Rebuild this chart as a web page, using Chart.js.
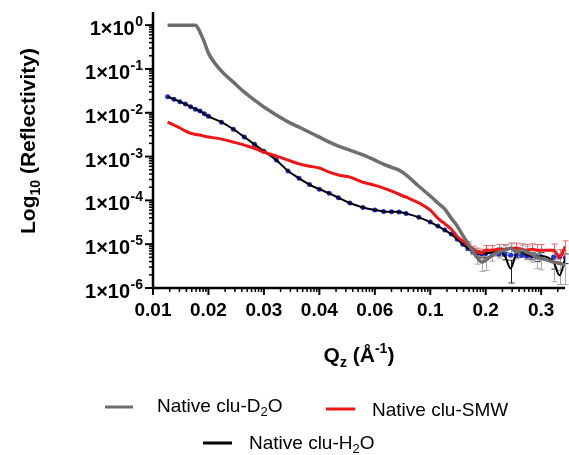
<!DOCTYPE html>
<html>
<head>
<meta charset="utf-8">
<script src="https://cdn.jsdelivr.net/npm/chart.js@4.4.0/dist/chart.umd.min.js"></script>
<style>
html, body { margin: 0; padding: 0; background: #fff; }
#wrap { width: 569px; height: 455px; position: relative; }
</style>
</head>
<body>
<div id="wrap"><canvas id="chart"></canvas></div>
<script>
// Q values (1/A) of the sampled points
var qValues = [0.012, 0.013, 0.014, 0.015, 0.016, 0.017, 0.018, 0.019, 0.020,
    0.022, 0.024, 0.026, 0.028, 0.030,
    0.032, 0.034, 0.036, 0.038, 0.040,
    0.043, 0.046, 0.050, 0.055, 0.060,
    0.065, 0.070, 0.075, 0.080, 0.090, 0.100,
    0.11, 0.12, 0.13, 0.14, 0.15, 0.16, 0.17, 0.18, 0.19, 0.20,
    0.21, 0.22, 0.23, 0.24, 0.25, 0.26, 0.27, 0.28, 0.29, 0.30,
    0.32, 0.33, 0.34];

// reflectivity, native clu in D2O
var d2o = [1.0, 1.0, 1.0, 1.0, 1.0, 1.0, 0.69, 0.41, 0.23,
    0.089, 0.050, 0.0295, 0.0195, 0.0135,
    0.0089, 0.0062, 0.0047, 0.0036, 0.00277,
    0.00214, 0.00174, 0.0014, 0.0011, 0.00083,
    0.00067, 0.00057, 0.00049, 0.00038, 0.00021, 0.000126,
    8.7e-5, 6.3e-5, 3.9e-5, 2.6e-5, 1.6e-5, 1.05e-5, 6.9e-6, 5.0e-6, 3.9e-6, 4.3e-6,
    5.6e-6, 6.6e-6, 7.3e-6, 8.1e-6, 6.6e-6, 7.3e-6, 6.6e-6, 5.9e-6, 5.0e-6, 4.8e-6,
    3.9e-6, 3.7e-6, 3.3e-6];

// native clu in SMW
var smw = [0.0061, 0.0052, 0.0045, 0.0038, 0.0034, 0.0032, 0.0031, 0.0029, 0.0028,
    0.0025, 0.00214, 0.00182, 0.00155, 0.00126,
    0.00102, 0.00083, 0.00068, 0.00060, 0.00055,
    0.00044, 0.00038, 0.00034, 0.00026, 0.00022,
    0.00019, 0.000162, 0.000138, 0.000118, 8.7e-5, 6.0e-5,
    3.9e-5, 2.9e-5, 2.2e-5, 1.5e-5, 1.17e-5, 9.5e-6, 7.8e-6, 6.6e-6, 6.2e-6, 7.3e-6,
    7.3e-6, 7.7e-6, 7.7e-6, 8.1e-6, 8.1e-6, 7.7e-6, 7.3e-6, 7.7e-6, 7.3e-6, 7.3e-6,
    7.3e-6, 5.0e-6, 8.9e-6];

// native clu in H2O
var h2o = [0.0233, 0.0204, 0.0179, 0.0158, 0.0138, 0.0121, 0.0109, 0.0095, 0.0083,
    0.0061, 0.0042, 0.0028, 0.0019, 0.00132,
    0.00083, 0.00047, 0.00032, 0.00023, 0.00018,
    0.000145, 0.000115, 8.7e-5, 6.9e-5, 6.0e-5,
    5.6e-5, 5.5e-5, 5.4e-5, 5.0e-5, 4.1e-5, 3.2e-5,
    2.6e-5, 2.1e-5, 1.7e-5, 1.3e-5, 1.0e-5, 8.1e-6, 6.9e-6, 6.1e-6, 5.9e-6, 6.1e-6,
    6.6e-6, 6.6e-6, 5.4e-6, 2.8e-6, 5.9e-6, 6.6e-6, 5.6e-6, 5.4e-6, 5.0e-6, 5.4e-6,
    3.9e-6, 1.95e-6, 4.8e-6];

// H2O fit (blue points)
var h2oFit = [0.0233, 0.0204, 0.0179, 0.0158, 0.0138, 0.0121, 0.0109, 0.0095, 0.0083,
    0.0061, 0.0042, 0.0028, 0.0019, 0.00132,
    0.00083, 0.00047, 0.00032, 0.00023, 0.00018,
    0.000145, 0.000115, 8.7e-5, 6.9e-5, 6.0e-5,
    5.6e-5, 5.5e-5, 5.4e-5, 5.0e-5, 4.1e-5, 3.2e-5,
    2.6e-5, 2.1e-5, 1.7e-5, 1.3e-5, 1.0e-5, 8.1e-6, 6.9e-6, 6.1e-6, 6.0e-6, 6.1e-6,
    6.1e-6, 6.0e-6, 5.8e-6, 5.6e-6, 5.6e-6, 5.5e-6, 5.4e-6, 5.3e-6, 5.2e-6, 5.2e-6,
    5.1e-6, 5.1e-6, 5.0e-6];

// error bars (only visible at high Q)
var errD2O = [0, 0, 0, 0, 0, 0, 0, 0, 0, 0, 0, 0, 0, 0, 0, 0, 0, 0, 0, 0,
    0, 0, 0, 0, 0, 0, 0, 0, 0, 0, 0, 0, 0, 0, 0,
    1.0e-6, 1.2e-6, 1.5e-6, 1.5e-6, 1.8e-6, 1.5e-6, 1.8e-6, 2.0e-6, 2.0e-6, 2.0e-6,
    2.2e-6, 2.2e-6, 2.0e-6, 2.2e-6, 2.2e-6, 2.5e-6, 2.5e-6, 2.5e-6];
var errSMW = [0, 0, 0, 0, 0, 0, 0, 0, 0, 0, 0, 0, 0, 0, 0, 0, 0, 0, 0, 0,
    0, 0, 0, 0, 0, 0, 0, 0, 0, 0, 0, 0, 0, 0, 0,
    1.0e-6, 1.2e-6, 1.5e-6, 1.5e-6, 2.0e-6, 2.0e-6, 2.2e-6, 2.2e-6, 2.5e-6, 2.5e-6,
    2.5e-6, 2.5e-6, 2.5e-6, 2.5e-6, 2.5e-6, 2.8e-6, 2.5e-6, 3.0e-6];
var errH2O = [0, 0, 0, 0, 0, 0, 0, 0, 0, 0, 0, 0, 0, 0, 0, 0, 0, 0, 0, 0,
    0, 0, 0, 0, 0, 0, 0, 0, 0, 0, 0, 0, 0, 0, 0,
    0.8e-6, 0.9e-6, 1.0e-6, 1.0e-6, 1.0e-6, 1.0e-6, 1.2e-6, 1.0e-6, 1.5e-6, 1.0e-6,
    1.0e-6, 1.0e-6, 1.0e-6, 1.0e-6, 1.0e-6, 1.2e-6, 1.5e-6, 1.2e-6];

// axis ticks
var xTickQ = [0.01, 0.02, 0.03, 0.04, 0.06, 0.1, 0.2, 0.3];
var xTickLabels = ['0.01', '0.02', '0.03', '0.04', '0.06', '0.1', '0.2', '0.3'];
var yExponents = [0, -1, -2, -3, -4, -5, -6];

var FONT = '"Liberation Sans", Arial, Helvetica, sans-serif';

// the x axis puts every labelled Q one "decade" apart (Prism style),
// so map Q onto that position by log interpolation between the labels
function qToPos(q) {
    var n = xTickQ.length;
    for (var i = 0; i < n - 1; i++) {
        if (q <= xTickQ[i + 1]) {
            return i + Math.log(q / xTickQ[i]) / Math.log(xTickQ[i + 1] / xTickQ[i]);
        }
    }
    return n - 1 + Math.log(q / xTickQ[n - 1]) / Math.log(0.4 / 0.3);
}

function series(vals) {
    return qValues.map(function (q, i) { return { x: qToPos(q), y: vals[i] }; });
}

// draw text made of pieces (for sub/superscripts)
function drawRich(ctx, parts, x, y, align) {
    var total = 0;
    parts.forEach(function (p) {
        ctx.font = p[2] + ' ' + p[1] + 'px ' + FONT;
        p.w = ctx.measureText(p[0]).width;
        total += p.w;
    });
    var cx = align === 'center' ? x - total / 2 : (align === 'right' ? x - total : x);
    ctx.textAlign = 'left';
    ctx.textBaseline = 'alphabetic';
    parts.forEach(function (p) {
        ctx.font = p[2] + ' ' + p[1] + 'px ' + FONT;
        ctx.fillText(p[0], cx, y + p[3]);
        cx += p.w;
    });
}

var errorBars = {
    id: 'errorBars',
    beforeDatasetsDraw: function (chart) {
        var ctx = chart.ctx, xs = chart.scales.x, ys = chart.scales.y;
        var sets = [[h2o, errH2O, '#222222'], [smw, errSMW, '#e86a6a'], [d2o, errD2O, '#a8a8a8']];
        ctx.save();
        ctx.lineWidth = 1;
        sets.forEach(function (s) {
            ctx.strokeStyle = s[2];
            qValues.forEach(function (q, i) {
                var e = s[1][i];
                if (!e) return;
                var x = Math.round(xs.getPixelForValue(qToPos(q))) + 0.5;
                var lo = Math.max(s[0][i] - e, 1.2e-6);
                var y1 = ys.getPixelForValue(s[0][i] + e);
                var y2 = ys.getPixelForValue(lo);
                ctx.beginPath();
                ctx.moveTo(x, y1); ctx.lineTo(x, y2);
                ctx.moveTo(x - 3, y1); ctx.lineTo(x + 3, y1);
                ctx.moveTo(x - 3, y2); ctx.lineTo(x + 3, y2);
                ctx.stroke();
            });
        });
        ctx.restore();
    }
};

var prismAxes = {
    id: 'prismAxes',
    afterDraw: function (chart) {
        var ctx = chart.ctx, a = chart.chartArea, xs = chart.scales.x, ys = chart.scales.y;
        ctx.save();
        ctx.strokeStyle = '#000';
        ctx.fillStyle = '#000';

        function line(x1, y1, x2, y2, w) {
            ctx.lineWidth = w;
            ctx.beginPath(); ctx.moveTo(x1, y1); ctx.lineTo(x2, y2); ctx.stroke();
        }

        // axis lines
        ctx.lineWidth = 2.5;
        ctx.beginPath();
        ctx.moveTo(a.left, a.top);
        ctx.lineTo(a.left, a.bottom);
        ctx.lineTo(a.right, a.bottom);
        ctx.stroke();

        // y ticks + labels
        yExponents.forEach(function (d) {
            var y = ys.getPixelForValue(Math.pow(10, d));
            line(a.left, y, a.left - 8, y, 2);
            for (var k = 2; k <= 9; k++) {
                var v = k * Math.pow(10, d);
                if (v > ys.max) break;
                var ym = ys.getPixelForValue(v);
                line(a.left, ym, a.left - 4, ym, 1.5);
            }
            var sup = d === 0 ? '0' : '-' + (-d);
            ctx.textAlign = 'right';
            ctx.textBaseline = 'alphabetic';
            ctx.font = 'bold 14px ' + FONT;
            var sw = ctx.measureText(sup).width;
            ctx.fillText(sup, 143, y + 1);
            ctx.font = 'bold 20px ' + FONT;
            ctx.fillText('1\u00d710', 143 - sw - 0.5, y + 10);
        });

        // x ticks
        xTickQ.forEach(function (q, i) {
            var x = xs.getPixelForValue(i);
            line(x, a.bottom, x, a.bottom + 7, 2);
            for (var k = 2; k <= 9; k++) {
                var p = i + Math.log10(k);
                if (p > xs.max) break;
                var xm = xs.getPixelForValue(p);
                line(xm, a.bottom, xm, a.bottom + 4, 1.5);
            }
        });

        // axis titles
        drawRich(ctx, [['Q', 21, 'bold', 0], ['z', 14, 'bold', 5], [' (\u00c5', 21, 'bold', 0],
            ['-1', 14, 'bold', -9], [')', 21, 'bold', 0]], 359, 362, 'center');
        ctx.save();
        ctx.translate(28, 141);
        ctx.rotate(-Math.PI / 2);
        drawRich(ctx, [['Log', 21, 'bold', 0], ['10', 14, 'bold', 5],
            [' (Reflectivity)', 21, 'bold', 0]], 0, 7, 'center');
        ctx.restore();

        // legend
        var legend = [
            ['#6e6e6e', 105, 133, 407, 157, 412, [['Native clu-D', 19, 'normal', 0], ['2', 13, 'normal', 4], ['O', 19, 'normal', 0]]],
            ['#f01414', 326, 355, 409, 372, 416, [['Native clu-SMW', 19, 'normal', 0]]],
            ['#000000', 203, 232, 443, 249, 449, [['Native clu-H', 19, 'normal', 0], ['2', 13, 'normal', 4], ['O', 19, 'normal', 0]]]
        ];
        legend.forEach(function (l) {
            ctx.strokeStyle = l[0];
            line(l[1], l[3], l[2], l[3], 3);
            ctx.fillStyle = '#000';
            drawRich(ctx, l[6], l[4], l[5], 'left');
        });
        ctx.restore();
    }
};

var ctx = document.getElementById('chart').getContext('2d');
var chart = new Chart(ctx, {
    type: 'line',
    data: {
        datasets: [
            { label: 'Native clu-D\u2082O', data: series(d2o), borderColor: '#6e6e6e', borderWidth: 3.5, pointRadius: 0,
              cubicInterpolationMode: 'monotone', order: 1 },
            { label: 'Native clu-SMW', data: series(smw), borderColor: '#f01414', borderWidth: 3, pointRadius: 0,
              cubicInterpolationMode: 'monotone', order: 2 },
            { label: 'Native clu-H\u2082O', data: series(h2o), borderColor: '#000000', borderWidth: 2, pointRadius: 0,
              cubicInterpolationMode: 'monotone', order: 3 },
            { label: 'H\u2082O fit', data: series(h2oFit), showLine: false, pointRadius: 2.5, pointBorderWidth: 0,
              pointBackgroundColor: '#1f2fd6', order: 4 }
        ]
    },
    options: {
        responsive: true,
        maintainAspectRatio: false,
        animation: false,
        layout: { padding: { left: 153, right: 2, top: 12, bottom: 0 } },
        scales: {
            x: {
                type: 'linear',
                min: 0,
                max: 7.43,
                grid: { display: false, drawTicks: false },
                border: { display: false },
                afterBuildTicks: function (scale) {
                    scale.ticks = xTickQ.map(function (q, i) { return { value: i }; });
                },
                afterFit: function (scale) { scale.height = 167; },
                ticks: {
                    autoSkip: false,
                    maxRotation: 0,
                    padding: 11,
                    color: '#000',
                    font: { family: FONT, size: 19, weight: 'bold' },
                    callback: function (value, index) { return xTickLabels[index]; }
                }
            },
            y: {
                type: 'logarithmic',
                display: false,
                min: 1e-6,
                max: Math.pow(10, 0.3)
            }
        },
        plugins: {
            legend: { display: false },
            tooltip: { enabled: false }
        }
    },
    plugins: [errorBars, prismAxes]
});
</script>
</body>
</html>
